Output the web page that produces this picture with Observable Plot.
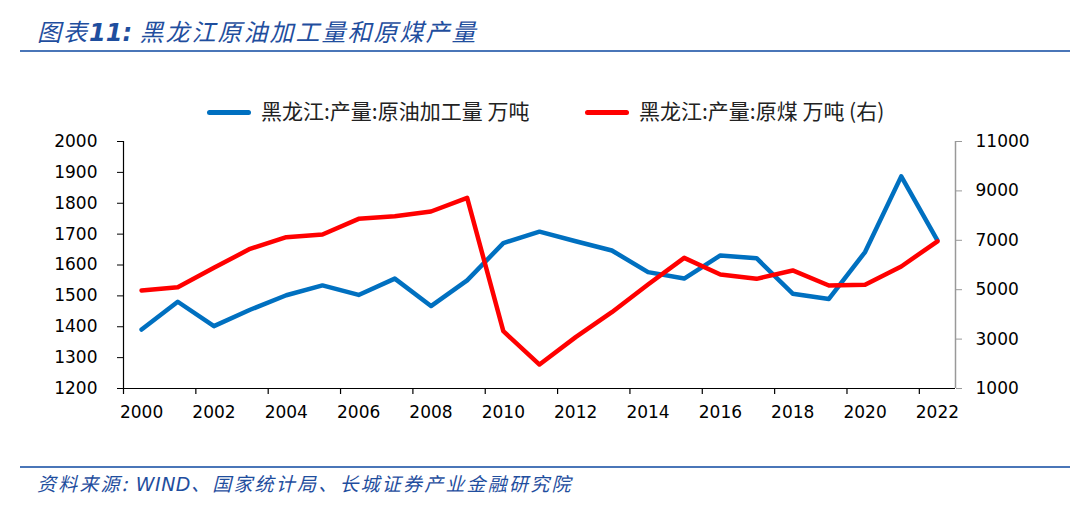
<!DOCTYPE html>
<html>
<head>
<meta charset="utf-8">
<script src="https://cdn.jsdelivr.net/npm/d3@7"></script>
<script src="https://cdn.jsdelivr.net/npm/@observablehq/plot@0.6"></script>
<style>
  html, body { margin: 0; padding: 0; background: #fff; }
  #wrap { position: relative; width: 1080px; height: 505px; overflow: hidden; }
  .title { position: absolute; left: 37px; top: 13px; font-family: "Noto Sans CJK SC", sans-serif; font-style: italic; font-size: 24px; letter-spacing: 2px; color: #1f4e9e; white-space: nowrap; }
  .title b { font-family: "DejaVu Sans", sans-serif; font-weight: bold; letter-spacing: 0; }
  .rule { position: absolute; left: 20px; width: 1050px; height: 2px; background: #4a76b8; }
  .legend { position: absolute; top: 96px; left: 0; width: 1080px; height: 28px; font-family: "Noto Sans CJK SC", sans-serif; font-size: 21px; color: #222; }
  .item { position: absolute; top: 0; white-space: nowrap; line-height: 28px; }
  .sw { display: inline-block; width: 44px; height: 5px; border-radius: 3px; vertical-align: middle; margin-right: 10px; position: relative; top: -1px; }
  .caption { position: absolute; left: 37px; top: 469px; font-family: "Noto Sans CJK SC", sans-serif; font-style: italic; font-size: 19px; letter-spacing: 2.2px; color: #1f4e9e; white-space: nowrap; }
  .caption b { font-family: "DejaVu Sans", sans-serif; font-weight: normal; letter-spacing: 0.5px; }
  #chart { position: absolute; left: 0; top: 125px; }
</style>
</head>
<body>
<div id="wrap">
  <div class="title">图表<b>11:</b>&nbsp;黑龙江原油加工量和原煤产量</div>
  <div class="rule" style="top:50px"></div>
  <div class="legend" id="legend"></div>
  <div id="chart"></div>
  <div class="rule" style="top:466px"></div>
  <div class="caption">资料来源:&nbsp;<b>WIND</b>、国家统计局、长城证券产业金融研究院</div>
</div>
<script>
// ---- data ----
const years = [2000, 2001, 2002, 2003, 2004, 2005, 2006, 2007, 2008, 2009, 2010, 2011, 2012, 2013, 2014, 2015, 2016, 2017, 2018, 2019, 2020, 2021, 2022];
const oilProcessing = [1391, 1481, 1402, 1455, 1502, 1534, 1503, 1556, 1467, 1550, 1671, 1708, 1677, 1647, 1577, 1556, 1631, 1622, 1507, 1490, 1642, 1887, 1680];
const coalOutput = [4970, 5100, 5886, 6655, 7126, 7235, 7870, 7975, 8166, 8720, 3320, 1970, 3080, 4090, 5210, 6290, 5615, 5440, 5780, 5170, 5200, 5940, 6960];
const xTickLabels = [2000, 2002, 2004, 2006, 2008, 2010, 2012, 2014, 2016, 2018, 2020, 2022];
const leftTicks = [1200, 1300, 1400, 1500, 1600, 1700, 1800, 1900, 2000];
const rightTicks = [1000, 3000, 5000, 7000, 9000, 11000];
const seriesNames = ["黑龙江:产量:原油加工量 万吨", "黑龙江:产量:原煤 万吨 (右)"];
const seriesColors = ["#0070c0", "#ff0000"];

// ---- scales mapping for the right axis ----
const L0 = leftTicks[0], L1 = leftTicks[leftTicks.length - 1];
const R0 = rightTicks[0], R1 = rightTicks[rightTicks.length - 1];
const toLeft = v => L0 + (v - R0) * (L1 - L0) / (R1 - R0);
const fromLeft = v => Math.round(R0 + (v - L0) * (R1 - R0) / (L1 - L0));

const oilData = years.map((y, i) => ({year: y, v: oilProcessing[i]}));
const coalData = years.map((y, i) => ({year: y, v: coalOutput[i]}));
const half = 0.5;
const xDomain = [years[0] - half, years[years.length - 1] + half];
const boundaries = xTickLabels.map(d => d - half);

// legend
const legend = document.getElementById("legend");
const legendX = [207, 585];
seriesNames.forEach((n, i) => {
  const it = document.createElement("div");
  it.className = "item";
  it.style.left = legendX[i] + "px";
  it.innerHTML = `<span class="sw" style="background:${seriesColors[i]}"></span>${n}`;
  legend.appendChild(it);
});

const chart = Plot.plot({
  width: 1080,
  height: 310,
  marginLeft: 123,
  marginRight: 125,
  marginTop: 16,
  marginBottom: 47,
  x: {domain: xDomain},
  y: {domain: [L0, L1]},
  style: {fontFamily: "DejaVu Sans, sans-serif", fontSize: "17px", color: "#000", background: "transparent", overflow: "visible"},
  marks: [
    Plot.axisX({ticks: boundaries, tickFormat: () => "", tickSize: 6, stroke: "#000", strokeWidth: 1.2, label: null}),
    Plot.axisX({ticks: xTickLabels, tickFormat: d => String(d), tickSize: 0, tickPadding: 17, label: null, fill: "#000"}),
    Plot.axisY({ticks: leftTicks, tickFormat: d => String(d), tickSize: 6, tickPadding: 20, anchor: "left", label: null, stroke: "#000", fill: "#000"}),
    Plot.axisY({ticks: rightTicks.map(toLeft), tickFormat: d => String(fromLeft(d)), tickSize: 6, tickPadding: 14, anchor: "right", label: null, stroke: "#999", fill: "#000"}),
    Plot.ruleX([xDomain[1]], {stroke: "#999", strokeWidth: 1.5}),
    Plot.ruleX([xDomain[0]], {stroke: "#000", strokeWidth: 1.2}),
    Plot.ruleY([L0], {stroke: "#000", strokeWidth: 1.2}),
    Plot.line(oilData, {x: "year", y: "v", stroke: seriesColors[0], strokeWidth: 4.5, strokeLinejoin: "round", strokeLinecap: "round"}),
    Plot.line(coalData, {x: "year", y: d => toLeft(d.v), stroke: seriesColors[1], strokeWidth: 4.5, strokeLinejoin: "round", strokeLinecap: "round"})
  ]
});
document.getElementById("chart").appendChild(chart);
</script>
</body>
</html>
